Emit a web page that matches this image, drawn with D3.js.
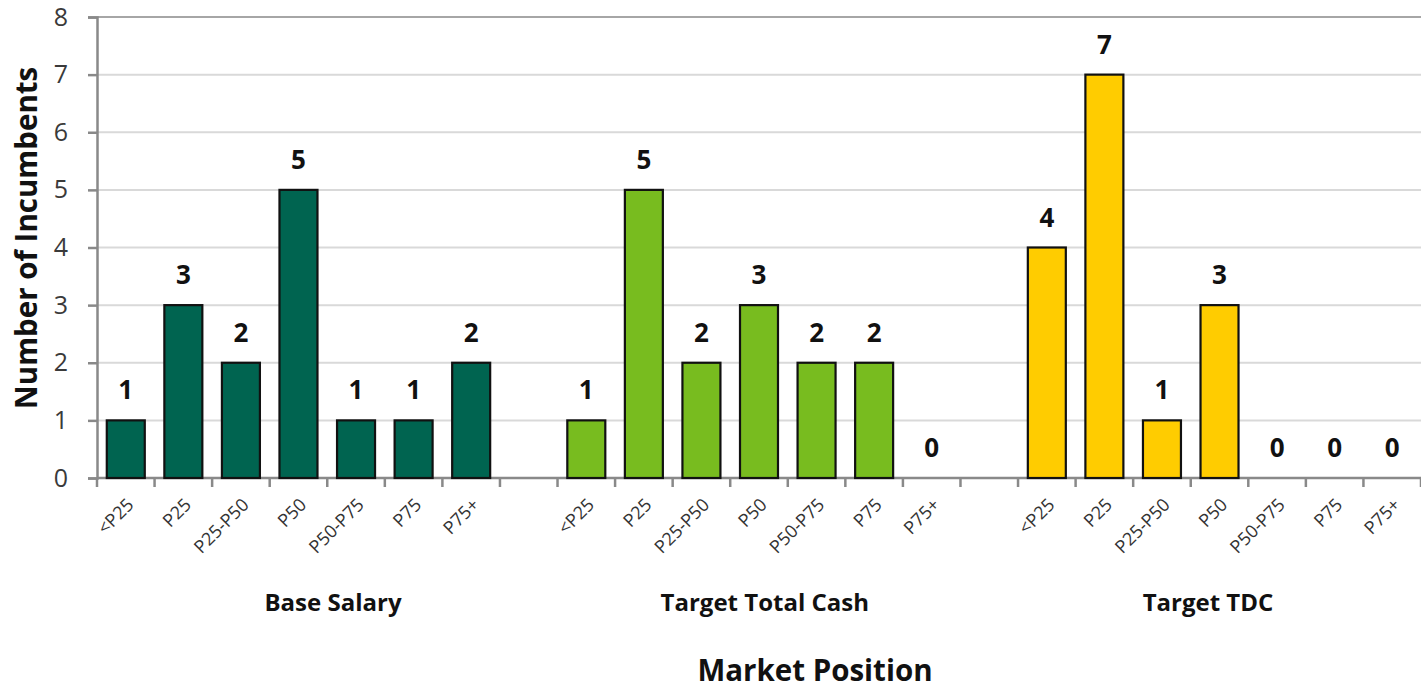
<!DOCTYPE html>
<html><head><meta charset="utf-8">
<script src="https://cdn.jsdelivr.net/npm/d3@7"></script>
<style>body{margin:0;background:#fff;} text{font-family:"Open Sans", Lato, sans-serif;}</style>
</head><body><svg id="c" width="1421" height="690"></svg>
<script>
const positions = ["<P25","P25","P25-P50","P50","P50-P75","P75","P75+"];
const groups = ["Base Salary","Target Total Cash","Target TDC"];
const baseSalary = [1,3,2,5,1,1,2];
const targetTotalCash = [1,5,2,3,2,2,0];
const targetTDC = [4,7,1,3,0,0,0];
const groupColors = ["#006450","#78BC1F","#FFCC00"];
const yTicks = [0,1,2,3,4,5,6,7,8];

(function(){
const seriesValues = [baseSalary, targetTotalCash, targetTDC];
const slots = [];
groups.forEach((g, gi) => {
  positions.forEach((p, pi) => slots.push({key: g + "|" + p, label: p, group: gi, value: seriesValues[gi][pi]}));
  if (gi < groups.length - 1) slots.push({key: "gap" + gi, label: "", group: -1, value: null});
});

const svg = d3.select("#c");
const mLeft = 97, mRight = 1421, mTop = 17, mBottom = 478;
const x = d3.scaleBand().domain(slots.map(d => d.key)).range([mLeft, mRight]).paddingInner(0.34).paddingOuter(0.17);
const y = d3.scaleLinear().domain([0, 8]).range([mBottom, mTop]);
const step = x.step();

svg.append("g").selectAll("line").data(yTicks.filter(t => t > 0)).join("line")
  .attr("x1", mLeft).attr("x2", mRight)
  .attr("y1", d => y(d)).attr("y2", d => y(d))
  .attr("stroke", d => d === 8 ? "#a6a6a6" : "#d9d9d9").attr("stroke-width", 2);

const ya = svg.append("g").attr("transform", `translate(${mLeft},0)`)
  .call(d3.axisLeft(y).tickValues(yTicks).tickSize(9).tickPadding(20).tickFormat(d3.format("d")));
ya.select(".domain").attr("stroke", "#898989").attr("stroke-width", 2.5);
ya.selectAll(".tick line").attr("stroke", "#898989").attr("stroke-width", 2.5);
ya.selectAll(".tick text").attr("font-size", 25).attr("fill", "#3a3a3a").style("font-family", "'Open Sans', sans-serif");

svg.append("line").attr("x1", mLeft).attr("x2", mRight).attr("y1", mBottom).attr("y2", mBottom)
  .attr("stroke", "#898989").attr("stroke-width", 2.5);
const boundaries = d3.range(slots.length + 1).map(i => mLeft + i * step);
svg.append("g").selectAll("line").data(boundaries).join("line")
  .attr("x1", d => d).attr("x2", d => d).attr("y1", mBottom).attr("y2", mBottom + 9)
  .attr("stroke", "#898989").attr("stroke-width", 2.5);

const real = slots.filter(d => d.group >= 0);
svg.append("g").selectAll("rect").data(real.filter(d => d.value > 0)).join("rect")
  .attr("x", d => x(d.key)).attr("width", x.bandwidth())
  .attr("y", d => y(d.value)).attr("height", d => y(0) - y(d.value))
  .attr("fill", d => groupColors[d.group]).attr("stroke", "#111").attr("stroke-width", 2.2);

svg.append("g").selectAll("text").data(real).join("text")
  .attr("x", d => x(d.key) + x.bandwidth() / 2)
  .attr("y", d => y(d.value) - 21)
  .attr("text-anchor", "middle").attr("font-size", 26).attr("font-weight", "bold").attr("fill", "#111")
  .text(d => d.value);

svg.append("g").selectAll("text").data(real).join("text")
  .attr("transform", d => `translate(${x(d.key) + x.bandwidth() / 2 + 9},${mBottom + 28}) rotate(-45)`)
  .attr("text-anchor", "end").attr("font-size", 18).attr("fill", "#333")
  .text(d => d.label);

const groupNudge = [0.6, 0.1, -0.2];
groups.forEach((g, gi) => {
  const ks = real.filter(d => d.group === gi).map(d => d.key);
  const cx = (x(ks[0]) + x(ks[ks.length - 1]) + x.bandwidth()) / 2 + groupNudge[gi] * step;
  svg.append("text").attr("x", cx).attr("y", 611).attr("text-anchor", "middle")
    .attr("font-size", 24).attr("font-weight", "bold").attr("fill", "#111").text(g);
});

svg.append("text").attr("x", 815).attr("y", 681).attr("text-anchor", "middle")
  .attr("font-size", 29.5).attr("font-weight", "bold").attr("fill", "#111").text("Market Position");
svg.append("text").attr("transform", "translate(37,238) rotate(-90)").attr("text-anchor", "middle")
  .attr("font-size", 29.5).attr("font-weight", "bold").attr("fill", "#111").text("Number of Incumbents");
})();
</script></body></html>
